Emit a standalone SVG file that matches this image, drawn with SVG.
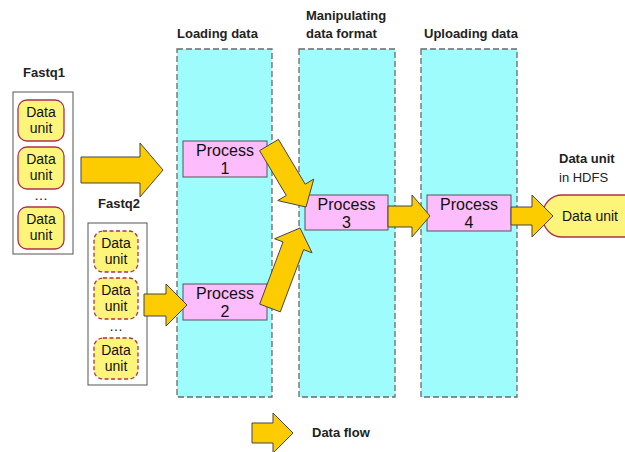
<svg xmlns="http://www.w3.org/2000/svg" width="625" height="452" viewBox="0 0 625 452">
<style>
.col{fill:#9ffcfd;stroke:#6a6a6a;stroke-width:1.3;stroke-dasharray:6 3}
.hdr{font-family:"Liberation Sans",Arial,sans-serif;font-weight:bold;font-size:13px;fill:#222}
.reg{font-family:"Liberation Sans",Arial,sans-serif;font-size:13px;fill:#222}
.proc{fill:#fdbcfc;stroke:#555;stroke-width:1}
.ptxt{font-family:"Liberation Sans",Arial,sans-serif;font-size:16px;fill:#111;text-anchor:middle}
.unit{fill:#fdf57a;stroke:#b0304c;stroke-width:1.3}
.dash{stroke-dasharray:4 2.5}
.utxt{font-family:"Liberation Sans",Arial,sans-serif;font-size:14px;fill:#111;text-anchor:middle}
.box{fill:#fff;stroke:#555;stroke-width:1}
.arrow{fill:#fdcc00;stroke:#444;stroke-width:1;stroke-linejoin:miter}
</style>
<rect width="625" height="452" fill="#fff"/>

<g id="col-loading">
<rect class="col" x="177" y="49" width="95" height="348"/>
<text class="hdr" x="177" y="38">Loading data</text>
</g>
<g id="col-manipulating">
<rect class="col" x="299" y="49" width="96" height="348"/>
<text class="hdr" x="306" y="20">Manipulating</text>
<text class="hdr" x="306" y="38">data format</text>
</g>
<g id="col-uploading">
<rect class="col" x="421" y="49" width="96" height="348"/>
<text class="hdr" x="424" y="38">Uploading data</text>
</g>

<g id="fastq1">
<text class="hdr" x="23" y="77">Fastq1</text>
<rect class="box" x="13" y="92" width="60" height="162"/>
<rect class="unit" x="18" y="100" width="46" height="41" rx="9"/>
<text class="utxt" x="41" y="117">Data</text><text class="utxt" x="41" y="133">unit</text>
<rect class="unit" x="18" y="147" width="46" height="42" rx="9"/>
<text class="utxt" x="41" y="164">Data</text><text class="utxt" x="41" y="180">unit</text>
<text class="utxt" x="41" y="200">…</text>
<rect class="unit" x="18" y="207" width="46" height="42" rx="9"/>
<text class="utxt" x="41" y="224">Data</text><text class="utxt" x="41" y="240">unit</text>
</g>

<g id="fastq2">
<text class="hdr" x="98" y="208">Fastq2</text>
<rect class="box" x="88" y="223" width="59" height="162"/>
<rect class="unit dash" x="94" y="231" width="44" height="41" rx="9"/>
<text class="utxt" x="116" y="248">Data</text><text class="utxt" x="116" y="264">unit</text>
<rect class="unit dash" x="94" y="278" width="44" height="41" rx="9"/>
<text class="utxt" x="116" y="295">Data</text><text class="utxt" x="116" y="311">unit</text>
<text class="utxt" x="116" y="331">…</text>
<rect class="unit dash" x="94" y="338" width="44" height="41" rx="9"/>
<text class="utxt" x="116" y="355">Data</text><text class="utxt" x="116" y="371">unit</text>
</g>

<g id="process1">
<rect class="proc" x="183" y="141" width="84" height="36"/>
<text class="ptxt" x="225" y="156">Process</text><text class="ptxt" x="225" y="174">1</text>
</g>
<g id="process2">
<rect class="proc" x="183" y="284" width="84" height="36"/>
<text class="ptxt" x="225" y="299">Process</text><text class="ptxt" x="225" y="317">2</text>
</g>
<g id="process3">
<rect class="proc" x="305" y="195" width="83" height="35"/>
<text class="ptxt" x="346.5" y="210">Process</text><text class="ptxt" x="346.5" y="228">3</text>
</g>
<g id="process4">
<rect class="proc" x="427" y="195" width="84" height="36"/>
<text class="ptxt" x="469" y="210">Process</text><text class="ptxt" x="469" y="228">4</text>
</g>

<g id="hdfs">
<text class="hdr" x="559" y="163">Data unit</text>
<text class="reg" x="559" y="182">in HDFS</text>
<rect class="unit" x="543" y="195" width="110" height="42" rx="19"/>
<text class="utxt" x="590" y="221" style="text-anchor:middle">Data unit</text>
</g>

<g id="connectors">
<polygon class="arrow" points="81,157 140,157 140,143 163,170 140,197 140,183 81,183"/>
<polygon class="arrow" points="144,294 166,294 166,284 187,305 166,326 166,316 144,316"/>
<polygon class="arrow" points="278.45,139.36 305.2,184.19 313.78,179.07 306,207 277.72,200.59 286.3,195.47 259.55,150.64"/>
<polygon class="arrow" points="259.7,304.14 283.03,241.93 274.6,238.77 300,228 312.06,252.81 303.63,249.65 280.3,311.86"/>
<polygon class="arrow" points="388,206 412,206 412,195 430,216 412,237 412,227 388,227"/>
<polygon class="arrow" points="511,207 532,207 532,195 553,216 532,237 532,225 511,225"/>
</g>

<g id="legend">
<polygon class="arrow" points="252,423 273,423 273,413 293,433 273,453 273,443 252,443"/>
<text class="hdr" x="312" y="437">Data flow</text>
</g>
</svg>
